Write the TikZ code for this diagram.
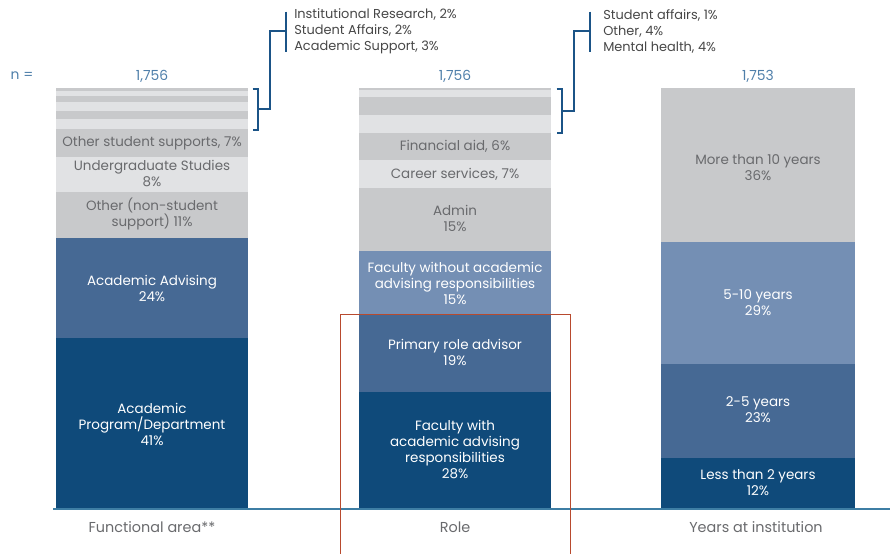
\documentclass[tikz,border=0pt]{standalone}
\usepackage{fontspec}
\setmainfont{Poppins}
\usepackage{tikz}
\definecolor{dkblue}{RGB}{15,74,122}
\definecolor{midblue}{RGB}{70,105,148}
\definecolor{ltblue}{RGB}{116,143,180}
\definecolor{segray}{RGB}{200,201,203}
\definecolor{seglight}{RGB}{225,226,228}
\definecolor{txtgray}{RGB}{105,106,109}
\definecolor{nblue}{RGB}{79,127,170}
\definecolor{brblue}{RGB}{27,84,135}
\definecolor{axisblue}{RGB}{62,126,164}
\definecolor{boxred}{RGB}{184,74,46}
\tikzstyle{lbl} = [align=center, inner sep=0pt, text=txtgray, font=\fontsize{10.1}{12}\selectfont]
\tikzstyle{wlbl} = [lbl, text=white]
\tikzstyle{note} = [align=left, anchor=west, inner sep=0pt, text=black!72, font=\fontsize{9.7}{12}\selectfont]
\tikzstyle{nlbl} = [inner sep=0pt, text=nblue, font=\fontsize{10.4}{12}\selectfont]
\tikzstyle{axlbl} = [inner sep=0pt, text=txtgray, font=\fontsize{10.8}{12}\selectfont]
\tikzstyle{brack} = [brblue, line width=1.5pt]

\begin{document}
\begin{tikzpicture}[x=0.75pt, y=-0.75pt]
			\useasboundingbox (0,0) rectangle (890,554);

			% functional area
			\fill[dkblue] (56,338) rectangle (248,509);
			\fill[midblue] (56,238) rectangle (248,338);
			\fill[segray] (56,192) rectangle (248,238);
			\fill[seglight] (56,157) rectangle (248,192);
			\fill[segray] (56,129) rectangle (248,157);
			\fill[seglight] (56,119) rectangle (248,129);
			\fill[segray] (56,111) rectangle (248,119);
			\fill[seglight] (56,102) rectangle (248,111);
			\fill[segray] (56,96) rectangle (248,102);
			\fill[seglight] (56,91) rectangle (248,96);
			\fill[segray] (56,88) rectangle (248,91);
			\node (faprog) [wlbl] at (152,424) {Academic\\Program/Department\\41\%};
			\node (faadv) [wlbl] at (152,288) {Academic Advising\\24\%};
			\node (faother) [lbl] at (152,214) {Other (non-student\\support) 11\%};
			\node (faug) [lbl] at (152,174) {Undergraduate Studies\\8\%};
			\node (fasup) [lbl] at (152,143) {Other student supports, 7\%};

			% role
			\fill[dkblue] (359,392) rectangle (551,509);
			\fill[midblue] (359,314) rectangle (551,392);
			\fill[ltblue] (359,251) rectangle (551,314);
			\fill[segray] (359,188) rectangle (551,251);
			\fill[seglight] (359,160) rectangle (551,188);
			\fill[segray] (359,133) rectangle (551,160);
			\fill[seglight] (359,115) rectangle (551,133);
			\fill[segray] (359,97) rectangle (551,115);
			\fill[seglight] (359,90) rectangle (551,97);
			\fill[segray] (359,88) rectangle (551,90);
			\node (rofac) [wlbl] at (455,450) {Faculty with\\academic advising\\responsibilities\\28\%};
			\node (roprim) [wlbl] at (455,352) {Primary role advisor\\19\%};
			\node (rofacw) [wlbl] at (455,283) {Faculty without academic\\advising responsibilities\\15\%};
			\node (roadm) [lbl] at (455,218) {Admin\\15\%};
			\node (rocar) [lbl] at (455,174) {Career services, 7\%};
			\node (rofin) [lbl] at (455,146) {Financial aid, 6\%};

			% years at institution
			\fill[dkblue] (661,458) rectangle (855,509);
			\fill[midblue] (661,364) rectangle (855,458);
			\fill[ltblue] (661,242) rectangle (855,364);
			\fill[segray] (661,88) rectangle (855,242);
			\node (yrless) [wlbl] at (758,483) {Less than 2 years\\12\%};
			\node (yrtwo) [wlbl] at (758,410) {2-5 years\\23\%};
			\node (yrfive) [wlbl] at (758,303) {5-10 years\\29\%};
			\node (yrmore) [lbl] at (758,168) {More than 10 years\\36\%};

			% n values
			\node (nlab) [nlbl] at (22,76) {n =};
			\node (nfa) [nlbl] at (152,76) {1,756};
			\node (nro) [nlbl] at (455,76) {1,756};
			\node (nyr) [nlbl] at (758,76) {1,753};

			% small categories
			\node (fanote) [note] at (294,31.5) {Institutional Research, 2\%\\Student Affairs, 2\%\\Academic Support, 3\%};
			\node (ronote) [note] at (603,31.5) {Student affairs, 1\%\\Other, 4\%\\Mental health, 4\%};
			\coordinate (fabrT) at (252.5,88.5);
			\coordinate (fabrB) at (252.5,129.5);
			\coordinate (fabrM) at (257.5,109);
			\coordinate (fabarT) at (285.7,11.5);
			\coordinate (fabarB) at (285.7,52);
			\coordinate (fabar) at (285.7,30.5);
			\coordinate (robrT) at (556.5,88.5);
			\coordinate (robrB) at (556.5,132.5);
			\coordinate (robrM) at (561.5,110.5);
			\coordinate (robarT) at (589.5,11.5);
			\coordinate (robarB) at (589.5,52);
			\coordinate (robar) at (589.5,30.5);
			\draw[brack] (fabrT) -| (fabrB -| fabrM) -- (fabrB);
			\draw[brack] (fabrM) -- (269.5,109) |- (fabar);
			\draw[brack] (fabarT) -- (fabarB);
			\draw[brack] (robrT) -| (robrB -| robrM) -- (robrB);
			\draw[brack] (robrM) -- (573.5,110.5) |- (robar);
			\draw[brack] (robarT) -- (robarB);

			% axis and labels
			\coordinate (axL) at (53,509);
			\coordinate (axR) at (890,509);
			\draw[axisblue, line width=1.5pt] (axL) -- (axR);
			\node (axfa) [axlbl] at (152,527) {Functional area**};
			\node (axro) [axlbl] at (455,527) {Role};
			\node (axyr) [axlbl] at (756,527) {Years at institution};

			% highlight
			\draw[boxred, line width=0.9pt] (340.7,554) -- (340.7,314.3) -- (570.7,314.3) -- (570.7,554);

			\end{tikzpicture}
\end{document}
